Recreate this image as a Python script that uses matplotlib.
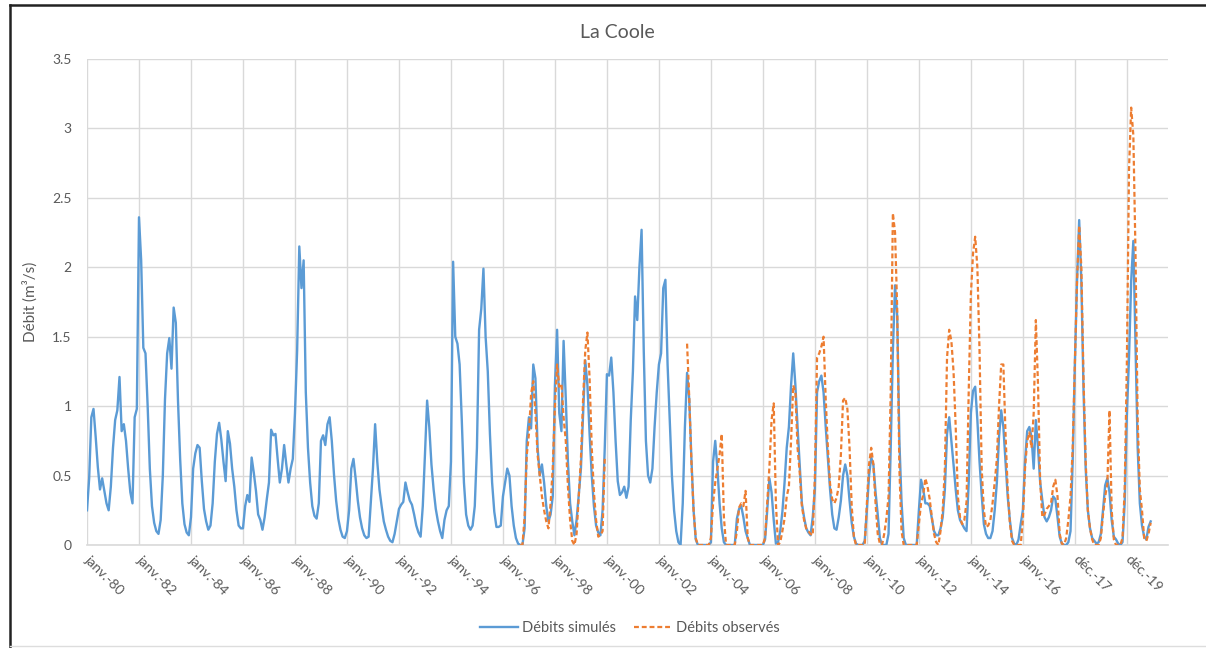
import numpy as np
import matplotlib
matplotlib.use("Agg")
import matplotlib.pyplot as plt
from matplotlib.lines import Line2D

plt.rcParams["font.family"] = ["Lato", "DejaVu Sans"]

nan = float("nan")

# monthly flows, one row per year, janvier 1980 -> décembre 2020
SIM_1980S = [
    0.25, 0.48, 0.92, 0.98, 0.78, 0.56, 0.40, 0.48, 0.39, 0.30, 0.25, 0.42,
    0.70, 0.90, 0.97, 1.21, 0.82, 0.87, 0.75, 0.55, 0.38, 0.30, 0.92, 0.98,
    2.36, 2.05, 1.42, 1.38, 1.00, 0.55, 0.28, 0.16, 0.10, 0.08, 0.18, 0.50,
    1.05, 1.38, 1.49, 1.27, 1.71, 1.60, 1.04, 0.62, 0.30, 0.15, 0.09, 0.07,
    0.20, 0.55, 0.66, 0.72, 0.70, 0.46, 0.26, 0.17, 0.11, 0.14, 0.30, 0.60,
    0.80, 0.88, 0.76, 0.60, 0.46, 0.82, 0.73, 0.55, 0.42, 0.25, 0.14, 0.12,
    0.12, 0.28, 0.36, 0.31, 0.63, 0.52, 0.39, 0.22, 0.18, 0.11, 0.20, 0.33,
    0.45, 0.83, 0.79, 0.80, 0.62, 0.45, 0.55, 0.72, 0.58, 0.45, 0.55, 0.62,
    0.95, 1.40, 2.15, 1.85, 2.05, 1.10, 0.70, 0.45, 0.28, 0.21, 0.19, 0.30,
    0.75, 0.79, 0.72, 0.87, 0.92, 0.75, 0.51, 0.32, 0.19, 0.11, 0.06, 0.05,
]
SIM_1990S = [
    0.10, 0.25, 0.55, 0.62, 0.48, 0.32, 0.20, 0.12, 0.07, 0.05, 0.06, 0.30,
    0.55, 0.87, 0.60, 0.40, 0.28, 0.17, 0.11, 0.06, 0.03, 0.02, 0.08, 0.17,
    0.26, 0.29, 0.31, 0.45, 0.38, 0.32, 0.29, 0.22, 0.14, 0.09, 0.06, 0.28,
    0.65, 1.04, 0.85, 0.58, 0.40, 0.26, 0.17, 0.10, 0.05, 0.18, 0.25, 0.28,
    0.60, 2.04, 1.50, 1.45, 1.30, 0.90, 0.45, 0.22, 0.14, 0.11, 0.14, 0.28,
    0.70, 1.55, 1.70, 1.99, 1.50, 1.25, 0.80, 0.45, 0.24, 0.13, 0.13, 0.14,
    0.35, 0.45, 0.55, 0.50, 0.28, 0.14, 0.05, 0.01, 0.00, 0.00, 0.12, 0.75,
    0.92, 0.84, 1.30, 1.20, 0.70, 0.50, 0.58, 0.45, 0.28, 0.17, 0.22, 0.35,
    1.15, 1.55, 0.95, 0.82, 1.47, 1.06, 0.60, 0.30, 0.17, 0.07, 0.18, 0.36,
    0.55, 0.95, 1.33, 1.15, 0.80, 0.50, 0.28, 0.14, 0.09, 0.07, 0.25, 0.70,
]
SIM_2000S = [
    1.23, 1.22, 1.35, 1.10, 0.75, 0.46, 0.36, 0.38, 0.42, 0.34, 0.42, 0.90,
    1.25, 1.79, 1.62, 2.00, 2.27, 1.40, 0.75, 0.50, 0.45, 0.55, 0.85, 1.10,
    1.30, 1.38, 1.85, 1.91, 1.30, 0.90, 0.50, 0.25, 0.10, 0.02, 0.00, 0.30,
    0.85, 1.24, 1.05, 0.62, 0.25, 0.04, 0.00, 0.00, 0.00, 0.00, 0.00, 0.00,
    0.02, 0.60, 0.75, 0.55, 0.30, 0.12, 0.02, 0.00, 0.00, 0.00, 0.00, 0.00,
    0.19, 0.26, 0.28, 0.20, 0.10, 0.05, 0.00, 0.00, 0.00, 0.00, 0.00, 0.00,
    0.00, 0.04, 0.25, 0.48, 0.38, 0.18, 0.01, 0.02, 0.10, 0.24, 0.45, 0.70,
    0.85, 1.15, 1.38, 1.15, 0.85, 0.58, 0.30, 0.20, 0.12, 0.09, 0.07, 0.20,
    0.40, 1.10, 1.18, 1.22, 1.10, 0.85, 0.62, 0.40, 0.22, 0.12, 0.11, 0.20,
    0.32, 0.50, 0.58, 0.50, 0.32, 0.16, 0.06, 0.01, 0.00, 0.00, 0.00, 0.03,
]
SIM_2010S = [
    0.25, 0.50, 0.63, 0.58, 0.38, 0.22, 0.05, 0.00, 0.00, 0.00, 0.08, 0.70,
    1.40, 1.87, 1.65, 0.75, 0.31, 0.05, 0.00, 0.00, 0.00, 0.00, 0.00, 0.00,
    0.25, 0.47, 0.40, 0.30, 0.30, 0.28, 0.19, 0.10, 0.07, 0.07, 0.12, 0.20,
    0.40, 0.80, 0.92, 0.75, 0.58, 0.40, 0.25, 0.18, 0.15, 0.12, 0.10, 0.45,
    0.95, 1.11, 1.14, 0.90, 0.60, 0.36, 0.15, 0.08, 0.05, 0.05, 0.10, 0.25,
    0.45, 0.78, 0.97, 0.85, 0.60, 0.35, 0.18, 0.05, 0.01, 0.00, 0.04, 0.15,
    0.25, 0.60, 0.82, 0.85, 0.78, 0.55, 0.90, 0.70, 0.45, 0.32, 0.20, 0.17,
    0.20, 0.25, 0.35, 0.33, 0.20, 0.06, 0.01, 0.00, 0.00, 0.02, 0.10, 0.60,
    1.30, 1.90, 2.34, 1.90, 1.12, 0.55, 0.25, 0.12, 0.05, 0.03, 0.01, 0.02,
    0.08, 0.25, 0.43, 0.48, 0.38, 0.18, 0.06, 0.04, 0.01, 0.00, 0.02, 0.30,
    0.93, 1.35, 1.90, 2.19, 1.45, 0.70, 0.30, 0.14, 0.06, 0.04, 0.13, 0.17,
]

# observed: no record before mid-1996, gap 2000-2002
OBS_1980_1995 = [nan] * (16 * 12)
OBS_1996_1999 = [
    nan, nan, nan, nan, nan, nan, nan, nan, 0.00, 0.00, 0.20, 0.65,
    0.80, 1.09, 1.18, 0.95, 0.65, 0.50, 0.35, 0.25, 0.17, 0.12, 0.30, 0.56,
    1.00, 1.30, 1.14, 1.16, 0.92, 0.75, 0.42, 0.18, 0.03, 0.00, 0.08, 0.35,
    0.62, 1.05, 1.40, 1.53, 1.20, 0.70, 0.38, 0.18, 0.06, 0.07, 0.10, 0.63,
]
OBS_2000_2002 = [nan] * (3 * 12)
OBS_2003_2009 = [
    nan, 1.45, 1.06, 0.60, 0.25, 0.05, 0.00, 0.00, 0.00, 0.00, 0.00, 0.00,
    0.05, 0.30, 0.45, 0.55, 0.65, 0.80, 0.20, 0.00, 0.00, 0.00, 0.00, 0.00,
    0.10, 0.27, 0.30, 0.28, 0.39, 0.05, 0.00, 0.00, 0.00, 0.00, 0.00, 0.00,
    0.00, 0.05, 0.30, 0.56, 0.90, 1.02, 0.30, 0.00, 0.02, 0.10, 0.19, 0.35,
    0.42, 0.75, 1.15, 1.10, 0.70, 0.52, 0.28, 0.18, 0.12, 0.10, 0.08, 0.07,
    0.50, 1.35, 1.38, 1.43, 1.50, 1.05, 0.70, 0.44, 0.33, 0.30, 0.34, 0.42,
    0.65, 1.04, 1.06, 0.98, 0.70, 0.28, 0.06, 0.00, 0.00, 0.00, 0.00, 0.00,
]
OBS_2010_2020 = [
    0.30, 0.58, 0.70, 0.58, 0.30, 0.08, 0.01, 0.00, 0.08, 0.19, 0.35, 1.10,
    2.39, 2.25, 1.70, 0.55, 0.10, 0.00, 0.00, 0.00, 0.00, 0.00, 0.00, 0.00,
    0.15, 0.30, 0.36, 0.48, 0.42, 0.33, 0.20, 0.08, 0.02, 0.00, 0.10, 0.25,
    0.55, 1.35, 1.55, 1.47, 1.25, 0.85, 0.35, 0.20, 0.15, 0.18, 0.31, 1.10,
    1.80, 2.10, 2.22, 2.00, 1.40, 0.55, 0.25, 0.13, 0.14, 0.18, 0.30, 0.45,
    0.62, 1.00, 1.30, 1.30, 0.80, 0.40, 0.16, 0.03, 0.00, 0.00, 0.00, 0.00,
    0.18, 0.55, 0.75, 0.81, 0.70, 0.95, 1.62, 1.15, 0.45, 0.20, 0.22, 0.26,
    0.28, 0.30, 0.42, 0.47, 0.35, 0.08, 0.01, 0.00, 0.05, 0.18, 0.35, 0.70,
    1.30, 1.90, 2.30, 2.00, 1.20, 0.60, 0.25, 0.12, 0.04, 0.00, 0.00, 0.00,
    0.05, 0.22, 0.35, 0.44, 0.97, 0.25, 0.04, 0.00, 0.00, 0.00, 0.05, 0.40,
    1.30, 2.70, 3.15, 2.95, 2.10, 0.90, 0.40, 0.25, 0.05, 0.03, 0.08, 0.16,
]

TICK_LABELS = [
    "janv.-80", "janv.-82", "janv.-84", "janv.-86", "janv.-88", "janv.-90",
    "janv.-92", "janv.-94", "janv.-96", "janv.-98", "janv.-00", "janv.-02",
    "janv.-04", "janv.-06", "janv.-08", "janv.-10", "janv.-12", "janv.-14",
    "janv.-16", "déc.-17", "déc.-19",
]
Y_TICKS = [0, 0.5, 1, 1.5, 2, 2.5, 3, 3.5]
Y_LABELS = ["0", "0.5", "1", "1.5", "2", "2.5", "3", "3.5"]

BLUE = "#5B9BD5"
ORANGE = "#ED7D31"
GRID = "#D9D9D9"
TEXT = "#595959"

sim = np.array(SIM_1980S + SIM_1990S + SIM_2000S + SIM_2010S)
obs = np.array(OBS_1980_1995 + OBS_1996_1999 + OBS_2000_2002
               + OBS_2003_2009 + OBS_2010_2020)
months = np.arange(len(sim))

fig = plt.figure(figsize=(12.06, 6.48), dpi=100)
ax = fig.add_axes([87 / 1206, 1 - 545 / 648, (1168 - 87) / 1206, (545 - 59) / 648])

ax.plot(months, sim, color=BLUE, lw=1.7, label="Débits simulés", zorder=3)
ax.plot(months, obs, color=ORANGE, lw=1.6, ls=(0, (2.2, 1.3)),
        label="Débits observés", zorder=4)

ax.set_xlim(0, 499)
ax.set_ylim(0, 3.5)
ax.set_xticks(np.arange(len(TICK_LABELS)) * 24)
ax.set_xticklabels(TICK_LABELS, rotation=-45, ha="left", va="center",
                   rotation_mode="anchor", fontsize=10, color=TEXT)
ax.set_yticks(Y_TICKS)
ax.set_yticklabels(Y_LABELS, fontsize=10, color=TEXT)
ax.tick_params(axis="both", length=0)
ax.tick_params(axis="x", pad=9)
ax.tick_params(axis="y", pad=11)

ax.grid(True, color=GRID, lw=1)
ax.set_axisbelow(True)
for side in ("top", "right", "left"):
    ax.spines[side].set_visible(False)
ax.spines["bottom"].set_color(GRID)
ax.spines["bottom"].set_linewidth(1.2)

ax.set_ylabel("Débit (m³/s)", fontsize=11, color=TEXT)
ax.yaxis.set_label_coords(-0.046, 0.5)

fig.text(617 / 1206, 1 - 32 / 648, "La Coole", ha="center", va="center",
         fontsize=14, color=TEXT)

fig.legend(loc="center", bbox_to_anchor=(630 / 1206, 1 - 628 / 648), ncol=2,
           frameon=False, fontsize=10.5, handlelength=2.6, handletextpad=0.3,
           columnspacing=1.2, labelcolor=TEXT)

# outer frame of the pasted chart
fig.add_artist(Line2D([10 / 1206, 10 / 1206], [0, 1 - 5 / 648],
                      color="#222222", lw=1.8, transform=fig.transFigure))
fig.add_artist(Line2D([10 / 1206, 1], [1 - 5 / 648, 1 - 5 / 648],
                      color="#222222", lw=1.8, transform=fig.transFigure))
fig.add_artist(Line2D([10 / 1206, 1], [1 - 646 / 648, 1 - 646 / 648],
                      color="#DDDDDD", lw=1, transform=fig.transFigure))

fig.savefig("out.png", dpi=100, facecolor="white")
